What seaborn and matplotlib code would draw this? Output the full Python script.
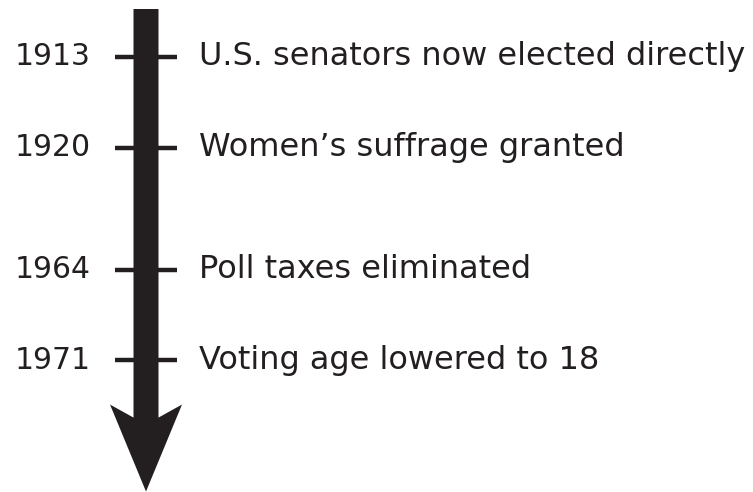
import matplotlib.pyplot as plt
import seaborn as sns
from matplotlib.patches import FancyArrow

# timeline events (slot = spacing along the arrow as drawn in the picture)
years = ["1913", "1920", "1964", "1971"]
events = ["U.S. senators now elected directly",
          "Women\u2019s suffrage granted",
          "Poll taxes eliminated",
          "Voting age lowered to 18"]
slot = [0, 1, 2.34, 3.33]

ink = "#231f20"

sns.set_theme(style="white")
plt.rcParams['font.family'] = ['DejaVu Sans']

fig = plt.figure(figsize=(7.53, 4.92), dpi=100)
ax = fig.add_axes([0, 0, 1, 1])
ax.set_xlim(0, 753)
ax.set_ylim(4.78, -0.626)
ax.axis("off")

x_mid = 146
top = -0.527
bottom = 4.775

# the big arrow
arrow = FancyArrow(x_mid, top, 0, bottom - top, width=25, head_width=72,
                   head_length=87 / 91, overhang=0.15,
                   length_includes_head=True, color=ink, lw=0, zorder=3)
ax.add_patch(arrow)

# tick marks across the arrow
sns.scatterplot(x=[x_mid] * len(slot), y=slot, marker="_", s=1990,
                linewidth=3.2, color=ink, ax=ax, zorder=2, legend=False)

for yr, ev, s in zip(years, events, slot):
    ax.text(91, s, yr, ha="right", va="center", fontsize=21.5, color=ink)
    ax.text(199, s, ev, ha="left", va="center", fontsize=23, color=ink)

fig.savefig("out.png", dpi=100)
